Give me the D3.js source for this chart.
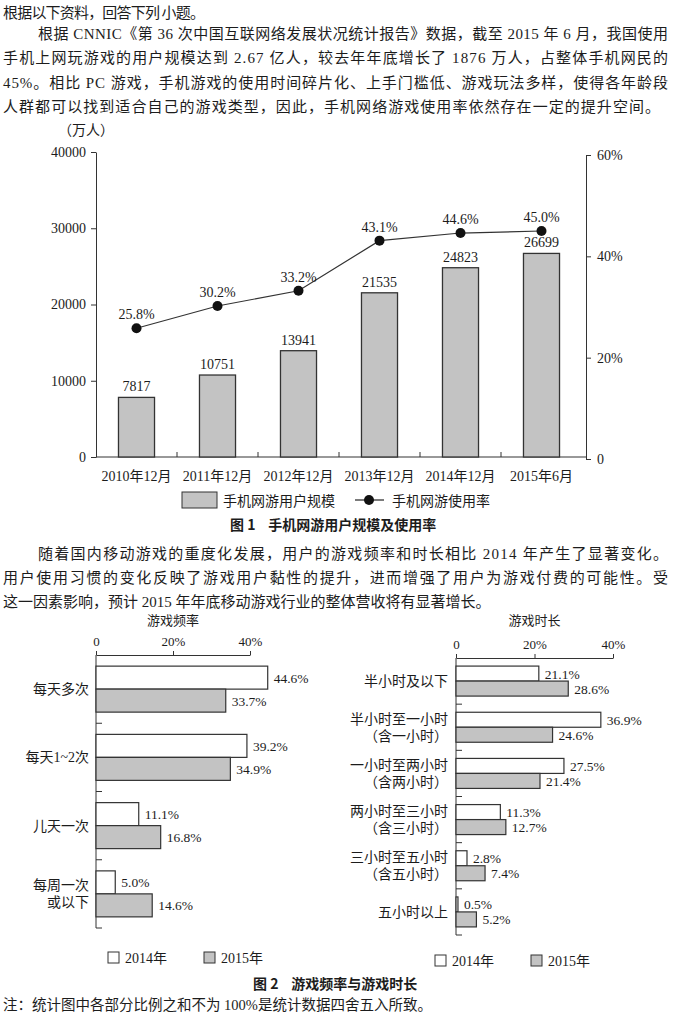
<!DOCTYPE html>
<html>
<head>
<meta charset="utf-8">
<script src="https://cdn.jsdelivr.net/npm/d3@7"></script>
<style>
  body { margin: 0; background: #fff; }
  svg text { fill: #1c1c1c; }
</style>
</head>
<body>
<script>
// figure 1 data
var periods = ["2010年12月", "2011年12月", "2012年12月", "2013年12月", "2014年12月", "2015年6月"];
var gameUsers = [7817, 10751, 13941, 21535, 24823, 26699];
var gameRate = [25.8, 30.2, 33.2, 43.1, 44.6, 45.0];
var userTicks = [0, 10000, 20000, 30000, 40000];
var rateTicks = [0, 20, 40, 60];

// figure 2 data
var years = ["2014年", "2015年"];
var freqCats = ["每天多次", "每天1~2次", "儿天一次", "每周一次\n或以下"];
var freq2014 = [44.6, 39.2, 11.1, 5.0];
var freq2015 = [33.7, 34.9, 16.8, 14.6];
var durCats = ["半小时及以下", "半小时至一小时\n（含一小时）", "一小时至两小时\n（含两小时）", "两小时至三小时\n（含三小时）", "三小时至五小时\n（含五小时）", "五小时以上"];
var dur2014 = [21.1, 36.9, 27.5, 11.3, 2.8, 0.5];
var dur2015 = [28.6, 24.6, 21.4, 12.7, 7.4, 5.2];
var pctTicks = [0, 20, 40];

var SERIF = "'Liberation Serif', 'Noto Sans CJK SC', serif";
var SANS = "'Noto Sans CJK SC', sans-serif";
var GREY = "#c3c3c3";

function init(){
	var svg = d3.select("body").append("svg")
				.attr("width", 674)
				.attr("height", 1017);

	svg.append("rect").attr("width", 674).attr("height", 1017).attr("fill", "#fff");

	paragraphs(svg);
	figure1(svg);
	hbars(svg, {cats: freqCats, a: freq2014, b: freq2015, title: "游戏频率",
		x0: 96, x1: 250, top: 655, bottom: 928, pad: 0.484, gap: 7, legend: [108, 204, 952]});
	hbars(svg, {cats: durCats, a: dur2014, b: dur2015, title: "游戏时长",
		x0: 456, x1: 613, top: 658, bottom: 935, pad: 0.539, gap: 8, legend: [435, 531, 955]});

	svg.append("text")
		.attr("x", 253).attr("y", 989)
		.style("font-family", SANS).style("font-size", "14px").style("font-weight", "bold")
		.attr("xml:space", "preserve")
		.text("图 2    游戏频率与游戏时长");
}

//text blocks of the exam page
function paragraphs(svg){
	svg.append("text")
		.attr("x", 3).attr("y", 18)
		.style("font-family", SANS).style("font-size", "15px")
		.attr("textLength", 202).attr("lengthAdjust", "spacing")
		.text("根据以下资料，回答下列 小题。");

	//w = 0 means the line is not stretched to the margin
	var lines = [
		{t: "根据 CNNIC《第 36 次中国互联网络发展状况统计报告》数据，截至 2015 年 6 月，我国使用", x: 38, y: 39, w: 630},
		{t: "手机上网玩游戏的用户规模达到 2.67 亿人，较去年年底增长了 1876 万人，占整体手机网民的", x: 3, y: 63, w: 665},
		{t: "45%。相比 PC 游戏，手机游戏的使用时间碎片化、上手门槛低、游戏玩法多样，使得各年龄段", x: 3, y: 88, w: 665},
		{t: "人群都可以找到适合自己的游戏类型，因此，手机网络游戏使用率依然存在一定的提升空间。", x: 3, y: 112, w: 657},
		{t: "随着国内移动游戏的重度化发展，用户的游戏频率和时长相比 2014 年产生了显著变化。", x: 38, y: 559, w: 630},
		{t: "用户使用习惯的变化反映了游戏用户黏性的提升，进而增强了用户为游戏付费的可能性。受", x: 3, y: 583, w: 665},
		{t: "这一因素影响，预计 2015 年年底移动游戏行业的整体营收将有显著增长。", x: 3, y: 607, w: 0},
		{t: "注：统计图中各部分比例之和不为 100%是统计数据四舍五入所致。", x: 3, y: 1010, w: 0}
	];

	var txt = svg.selectAll("text.para").data(lines).enter()
		.append("text")
		.attr("class", "para")
		.attr("x", d => d.x)
		.attr("y", d => d.y)
		.style("font-family", SERIF)
		.style("font-size", d => d.y > 1000 ? "14.5px" : "15px")
		.text(d => d.t);

	txt.filter(d => d.w > 0)
		.attr("textLength", d => d.w)
		.attr("lengthAdjust", "spacing");
}

function figure1(svg){
	var g = svg.append("g");
	var left = 96, right = 586, base = 457;

	var x = d3.scaleBand().domain(periods).range([left, 582]).paddingInner(0.555).paddingOuter(0.2775);
	var yL = d3.scaleLinear().domain([0, 40000]).range([base, 152]);
	var yR = d3.scaleLinear().domain([0, 60]).range([459, 155]);

	g.append("text")
		.attr("x", 58).attr("y", 135)
		.style("font-family", SANS).style("font-size", "14px")
		.text("（万人）");

	//axes
	var axL = g.append("g")
		.attr("transform", "translate(" + left + ",0)")
		.call(d3.axisLeft(yL).tickValues(userTicks).tickFormat(d3.format("d")).tickSize(5).tickSizeOuter(0).tickPadding(5));
	var axR = g.append("g")
		.attr("transform", "translate(" + right + ",0)")
		.call(d3.axisRight(yR).tickValues(rateTicks).tickFormat(d => d ? d + "%" : "0").tickSize(5).tickSizeOuter(0).tickPadding(6));
	[axL, axR].forEach(function(a){
		a.selectAll("path, line").attr("stroke", "#333");
		a.selectAll("text").style("font-family", SERIF).style("font-size", "14px").attr("fill", "#1c1c1c");
	});

	g.append("line")
		.attr("x1", left).attr("x2", right)
		.attr("y1", base).attr("y2", base)
		.attr("stroke", "#333");

	//small separators between categories
	var seps = periods.slice(1).map(p => x(p) - (x.step() - x.bandwidth()) / 2);
	g.selectAll("line.sep").data(seps).enter()
		.append("line")
		.attr("x1", d => d).attr("x2", d => d)
		.attr("y1", base).attr("y2", base - 5)
		.attr("stroke", "#333");

	g.selectAll("text.cat").data(periods).enter()
		.append("text")
		.attr("x", d => x(d) + x.bandwidth() / 2)
		.attr("y", 481)
		.attr("text-anchor", "middle")
		.style("font-family", SERIF).style("font-size", "14px")
		.text(d => d);

	//bars
	g.selectAll("rect.bar").data(gameUsers).enter()
		.append("rect")
		.attr("x", (d, i) => x(periods[i]))
		.attr("y", d => yL(d))
		.attr("width", x.bandwidth())
		.attr("height", d => base - yL(d))
		.attr("fill", GREY)
		.attr("stroke", "#333")
		.attr("stroke-width", 1.3);

	g.selectAll("text.val").data(gameUsers).enter()
		.append("text")
		.attr("x", (d, i) => x(periods[i]) + x.bandwidth() / 2)
		.attr("y", d => yL(d) - 6)
		.attr("text-anchor", "middle")
		.style("font-family", SERIF).style("font-size", "14px")
		.text(d => d);

	//usage rate line
	var cx = (d, i) => x(periods[i]) + x.bandwidth() / 2;
	var line = d3.line().x(cx).y(d => yR(d));
	g.append("path")
		.datum(gameRate)
		.attr("d", line)
		.attr("fill", "none")
		.attr("stroke", "#333")
		.attr("stroke-width", 1.2);

	g.selectAll("circle.dot").data(gameRate).enter()
		.append("circle")
		.attr("cx", cx)
		.attr("cy", d => yR(d))
		.attr("r", 5)
		.attr("fill", "#111");

	g.selectAll("text.rate").data(gameRate).enter()
		.append("text")
		.attr("x", cx)
		.attr("y", d => yR(d) - 9)
		.attr("text-anchor", "middle")
		.style("font-family", SERIF).style("font-size", "14px")
		.text(d => d.toFixed(1) + "%");

	//legend
	g.append("rect")
		.attr("x", 182).attr("y", 492).attr("width", 35).attr("height", 16)
		.attr("fill", GREY).attr("stroke", "#333");
	g.append("text")
		.attr("x", 223).attr("y", 506)
		.style("font-family", SANS).style("font-size", "14px")
		.text("手机网游用户规模");
	g.append("line")
		.attr("x1", 355).attr("x2", 384).attr("y1", 500).attr("y2", 500)
		.attr("stroke", "#333").attr("stroke-width", 1.3);
	g.append("circle")
		.attr("cx", 369).attr("cy", 500).attr("r", 5).attr("fill", "#111");
	g.append("text")
		.attr("x", 392).attr("y", 506)
		.style("font-family", SANS).style("font-size", "14px")
		.text("手机网游使用率");

	g.append("text")
		.attr("x", 230).attr("y", 530)
		.style("font-family", SANS).style("font-size", "14px").style("font-weight", "bold")
		.attr("xml:space", "preserve")
		.text("图 1    手机网游用户规模及使用率");
}

//horizontal grouped bars for figure 2
function hbars(svg, o){
	var g = svg.append("g");
	var xs = d3.scaleLinear().domain([0, 40]).range([o.x0, o.x1]);
	var y = d3.scaleBand().domain(o.cats).range([o.top, o.bottom]);
	var sub = d3.scaleBand().domain(years).range([0, y.bandwidth()]).paddingOuter(o.pad);

	g.append("text")
		.attr("x", xs(20)).attr("y", 625)
		.attr("text-anchor", "middle")
		.style("font-family", SANS).style("font-size", "13px")
		.text(o.title);

	var ax = g.append("g")
		.attr("transform", "translate(0," + o.top + ")")
		.call(d3.axisTop(xs).tickValues(pctTicks).tickFormat(d => d ? d + "%" : "0").tickSize(4).tickSizeOuter(0).tickPadding(5));
	ax.selectAll("path, line").attr("stroke", "#333");
	ax.selectAll("text").style("font-family", SERIF).style("font-size", "13px").attr("fill", "#1c1c1c");

	g.append("line")
		.attr("x1", o.x0).attr("x2", o.x0)
		.attr("y1", o.top).attr("y2", o.bottom)
		.attr("stroke", "#333");

	g.selectAll("line.sep").data(o.cats).enter()
		.append("line")
		.attr("x1", o.x0).attr("x2", o.x0 + 6)
		.attr("y1", d => y(d) + y.bandwidth())
		.attr("y2", d => y(d) + y.bandwidth())
		.attr("stroke", "#333");

	var rows = [];
	o.cats.forEach(function(c, i){
		rows.push({cat: c, yr: years[0], v: o.a[i]});
		rows.push({cat: c, yr: years[1], v: o.b[i]});
	});

	g.selectAll("rect.bar").data(rows).enter()
		.append("rect")
		.attr("x", o.x0)
		.attr("y", d => y(d.cat) + sub(d.yr))
		.attr("width", d => xs(d.v) - o.x0)
		.attr("height", sub.bandwidth())
		.attr("fill", d => d.yr == years[0] ? "#fff" : GREY)
		.attr("stroke", "#333")
		.attr("stroke-width", 1.2);

	g.selectAll("text.val").data(rows).enter()
		.append("text")
		.attr("x", d => xs(d.v) + 6)
		.attr("y", d => y(d.cat) + sub(d.yr) + sub.bandwidth() / 2 + 5)
		.style("font-family", SERIF).style("font-size", "13.5px")
		.text(d => d.v.toFixed(1) + "%");

	//category labels, some on two lines
	o.cats.forEach(function(c){
		var parts = c.split("\n");
		var mid = y(c) + y.bandwidth() / 2;
		parts.forEach(function(p, j){
			var off = parts.length == 1 ? 0 : (j == 0 ? -8.5 : 8.5);
			g.append("text")
				.attr("x", o.x0 - o.gap)
				.attr("y", mid + off + 5)
				.attr("text-anchor", "end")
				.style("font-family", SERIF).style("font-size", "14px")
				.text(p);
		});
	});

	//legend
	var lg = o.legend;
	years.forEach(function(yr, i){
		g.append("rect")
			.attr("x", lg[i]).attr("y", lg[2]).attr("width", 11).attr("height", 11)
			.attr("fill", i == 0 ? "#fff" : GREY).attr("stroke", "#333");
		g.append("text")
			.attr("x", lg[i] + 17).attr("y", lg[2] + 11)
			.style("font-family", SERIF).style("font-size", "14px")
			.text(yr);
	});
}

window.onload = init;
</script>
</body>
</html>
